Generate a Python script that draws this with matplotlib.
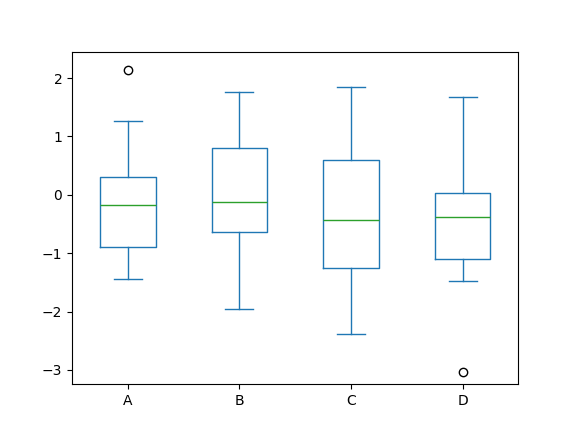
import matplotlib
matplotlib.use('Agg')
import matplotlib.pyplot as plt

# Box statistics
labels = ['A', 'B', 'C', 'D']
whislo = [-1.45, -1.96, -2.39, -1.47]
q1 = [-0.89, -0.64, -1.25, -1.10]
med = [-0.18, -0.13, -0.43, -0.38]
q3 = [0.30, 0.81, 0.59, 0.03]
whishi = [1.27, 1.76, 1.85, 1.68]
fliers = [[2.14], [], [], [-3.03]]

stats = []
for i in range(len(labels)):
    stats.append({'label': labels[i], 'whislo': whislo[i], 'q1': q1[i], 'med': med[i],
                  'q3': q3[i], 'whishi': whishi[i], 'fliers': fliers[i]})

fig, ax = plt.subplots(figsize=(5.76, 4.32), dpi=100)
blue = '#1f77b4'
ax.bxp(stats, widths=0.5,
       boxprops=dict(color=blue), whiskerprops=dict(color=blue),
       capprops=dict(color=blue), medianprops=dict(color='#2ca02c'),
       flierprops=dict(marker='o', markerfacecolor='none', markeredgecolor='black'))
ax.set_ylim(-3.25, 2.45)
fig.savefig('out.png', dpi=100)
